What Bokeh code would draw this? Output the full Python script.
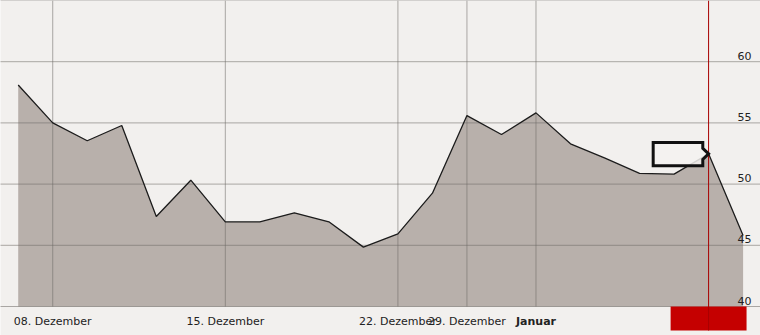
from bokeh.plotting import figure
from bokeh.embed import file_html
from bokeh.resources import INLINE
from bokeh.core.properties import value

# ---- data -------------------------------------------------------------
dates = ["05.12.", "08.12.", "09.12.", "10.12.", "11.12.", "12.12.",
         "15.12.", "16.12.", "17.12.", "18.12.", "19.12.", "22.12.",
         "23.12.", "29.12.", "30.12.", "02.01.", "05.01.", "06.01.",
         "07.01.", "08.01.", "09.01.", "12.01."]
prices = [58.10, 55.00, 53.54, 54.79, 47.35, 50.32,
          46.92, 46.92, 47.65, 46.92, 44.85, 45.94,
          49.26, 55.60, 54.05, 55.82, 53.29, 52.12,
          50.87, 50.82, 52.47, 45.80]

tick_dates = ["08.12.", "15.12.", "22.12.", "29.12.", "02.01."]
tick_labels = ["08. Dezember", "15. Dezember", "22. Dezember", "29. Dezember", "Januar"]
tick_bold = [False, False, False, False, True]
y_ticks = [40, 45, 50, 55, 60]
y_top = 65
marked_date = "09.01."

# ---- derived ----------------------------------------------------------
xs = list(range(len(dates)))
tick_x = [dates.index(d) for d in tick_dates]
mx = dates.index(marked_date)
my = prices[mx]
y_min = min(y_ticks)

BG = "#f2f0ee"
FONT = "DejaVu Sans"

p = figure(width=760, height=335,
           x_range=(-0.513, len(dates) - 0.496),
           y_range=(y_min - 2.369, y_top),
           x_axis_type=None, y_axis_type=None,
           min_border=0, toolbar_location=None, output_backend="svg")
p.outline_line_color = None
p.background_fill_color = BG
p.border_fill_color = BG

# area
p.varea(x=xs, y1=[y_min] * len(xs), y2=prices, fill_color="#b8b0ab", fill_alpha=1.0)

# grid lines drawn over the area
grid_col = "#6e6a66"
h_lines = y_ticks + [y_top]
p.segment(x0=[-1] * len(h_lines), x1=[len(dates)] * len(h_lines), y0=h_lines, y1=h_lines,
          line_color=grid_col, line_alpha=0.55, line_width=1)
p.segment(x0=tick_x, x1=tick_x, y0=[y_min] * len(tick_x), y1=[y_top] * len(tick_x),
          line_color=grid_col, line_alpha=0.55, line_width=1)

# price line
p.line(xs, prices, line_color="#1c1c1c", line_width=1.3)

# red marker box under the axis + vertical marker line
p.quad(left=[mx - 1.1], right=[mx + 1.1], bottom=[y_min - 1.96], top=[y_min],
       fill_color="#c50000", line_color=None)
p.segment(x0=[mx], x1=[mx], y0=[y_min - 1.96], y1=[y_top],
          line_color="#a80000", line_width=1)

# callout box pointing at the marked value
cx = [mx - 1.605, mx - 0.168, mx - 0.168, mx, mx - 0.168, mx - 0.168, mx - 1.605]
cy = [my + 0.92, my + 0.92, my + 0.45, my, my - 0.45, my - 0.98, my - 0.98]
p.patch(cx, cy, fill_color="#f4f2f0", fill_alpha=0.85,
        line_color="#111111", line_width=3, line_join="miter")

# y labels inside the plot on the right
p.text(x=[len(dates) - 0.757] * len(y_ticks), y=y_ticks, text=[str(v) for v in y_ticks],
       text_align="right", text_baseline="alphabetic", y_offset=-6,
       text_font=value(FONT), text_font_size="11px", text_color="#222222")

# x labels
for tx, lab, b in zip(tick_x, tick_labels, tick_bold):
    p.text(x=[tx], y=[y_min - 1.552], text=[lab], text_align="center",
           text_baseline="alphabetic", y_offset=-4,
           text_font=value(FONT), text_font_size="11px",
           text_font_style="bold" if b else "normal", text_color="#222222")

open("out.html", "w").write(file_html(p, INLINE))
